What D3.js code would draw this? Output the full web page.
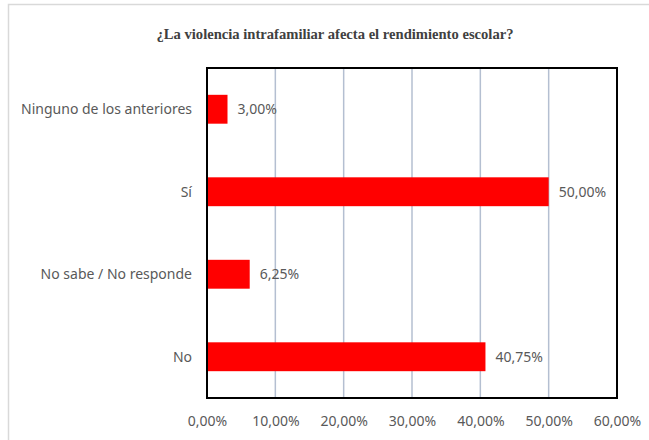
<!DOCTYPE html>
<html>
<head>
<meta charset="utf-8">
<script src="https://cdn.jsdelivr.net/npm/d3@7"></script>
<style>
  body { margin: 0; background: #fff; }
</style>
</head>
<body>
<div id="chart"></div>
<script>
const categories = ["Ninguno de los anteriores", "Sí", "No sabe / No responde", "No"];
const values = [3.00, 50.00, 6.25, 40.75];
const tickValues = [0, 10, 20, 30, 40, 50, 60];

const width = 649;
const height = 440;
const margin = { top: 68, right: 32, bottom: 42, left: 207 };

const fmt = v => v.toFixed(2).replace(".", ",") + "%";

const svg = d3.select("#chart")
    .append("svg")
    .attr("width", width)
    .attr("height", height);

// outer chart border
svg.append("rect")
    .attr("x", 8.5)
    .attr("y", 4.5)
    .attr("width", 700)
    .attr("height", 500)
    .attr("fill", "#fff")
    .attr("stroke", "#d9d9d9")
    .attr("stroke-width", 1.5);

svg.append("text")
    .attr("x", 335)
    .attr("y", 39)
    .attr("text-anchor", "middle")
    .style("font-family", "'Liberation Serif', 'Times New Roman', serif")
    .style("font-weight", "bold")
    .style("font-size", "14.6px")
    .style("fill", "#404040")
    .text("¿La violencia intrafamiliar afecta el rendimiento escolar?");

const x = d3.scaleLinear()
    .domain([0, 60])
    .range([margin.left, width - margin.right]);

const y = d3.scaleBand()
    .domain(categories)
    .range([margin.top, height - margin.bottom])
    .paddingInner(0.65)
    .paddingOuter(0.325);

// gridlines
svg.append("g")
    .selectAll("line")
    .data(tickValues.slice(1, -1))
    .enter()
    .append("line")
    .attr("x1", d => x(d))
    .attr("x2", d => x(d))
    .attr("y1", margin.top)
    .attr("y2", height - margin.bottom)
    .attr("stroke", "#b4bfd1")
    .attr("stroke-width", 1.5);

svg.append("g")
    .selectAll("rect")
    .data(categories)
    .enter()
    .append("rect")
    .attr("x", x(0))
    .attr("y", d => y(d))
    .attr("width", (d, i) => x(values[i]) - x(0))
    .attr("height", y.bandwidth())
    .attr("fill", "#ff0000");

// plot frame
svg.append("rect")
    .attr("x", margin.left)
    .attr("y", margin.top)
    .attr("width", width - margin.right - margin.left)
    .attr("height", height - margin.bottom - margin.top)
    .attr("fill", "none")
    .attr("stroke", "#000")
    .attr("stroke-width", 2);

const labelFont = "'Noto Sans', 'Open Sans', sans-serif";

// category labels
svg.append("g")
    .selectAll("text")
    .data(categories)
    .enter()
    .append("text")
    .attr("x", 192)
    .attr("y", d => y(d) + y.bandwidth() / 2)
    .attr("dy", "0.35em")
    .attr("text-anchor", "end")
    .style("font-family", labelFont)
    .style("font-size", "14px")
    .style("fill", "#595959")
    .text(d => d);

// value labels
svg.append("g")
    .selectAll("text")
    .data(categories)
    .enter()
    .append("text")
    .attr("x", (d, i) => x(values[i]) + 10)
    .attr("y", d => y(d) + y.bandwidth() / 2)
    .attr("dy", "0.35em")
    .style("font-family", labelFont)
    .style("font-size", "14px")
    .style("fill", "#595959")
    .text((d, i) => fmt(values[i]));

// x axis
const xAxis = svg.append("g")
    .attr("transform", `translate(0,${height - margin.bottom})`)
    .call(d3.axisBottom(x).tickValues(tickValues).tickSize(0).tickPadding(18).tickFormat(fmt));

xAxis.select(".domain").remove();
xAxis.selectAll("text")
    .style("font-family", labelFont)
    .style("font-size", "14px")
    .style("fill", "#595959");
</script>
</body>
</html>
